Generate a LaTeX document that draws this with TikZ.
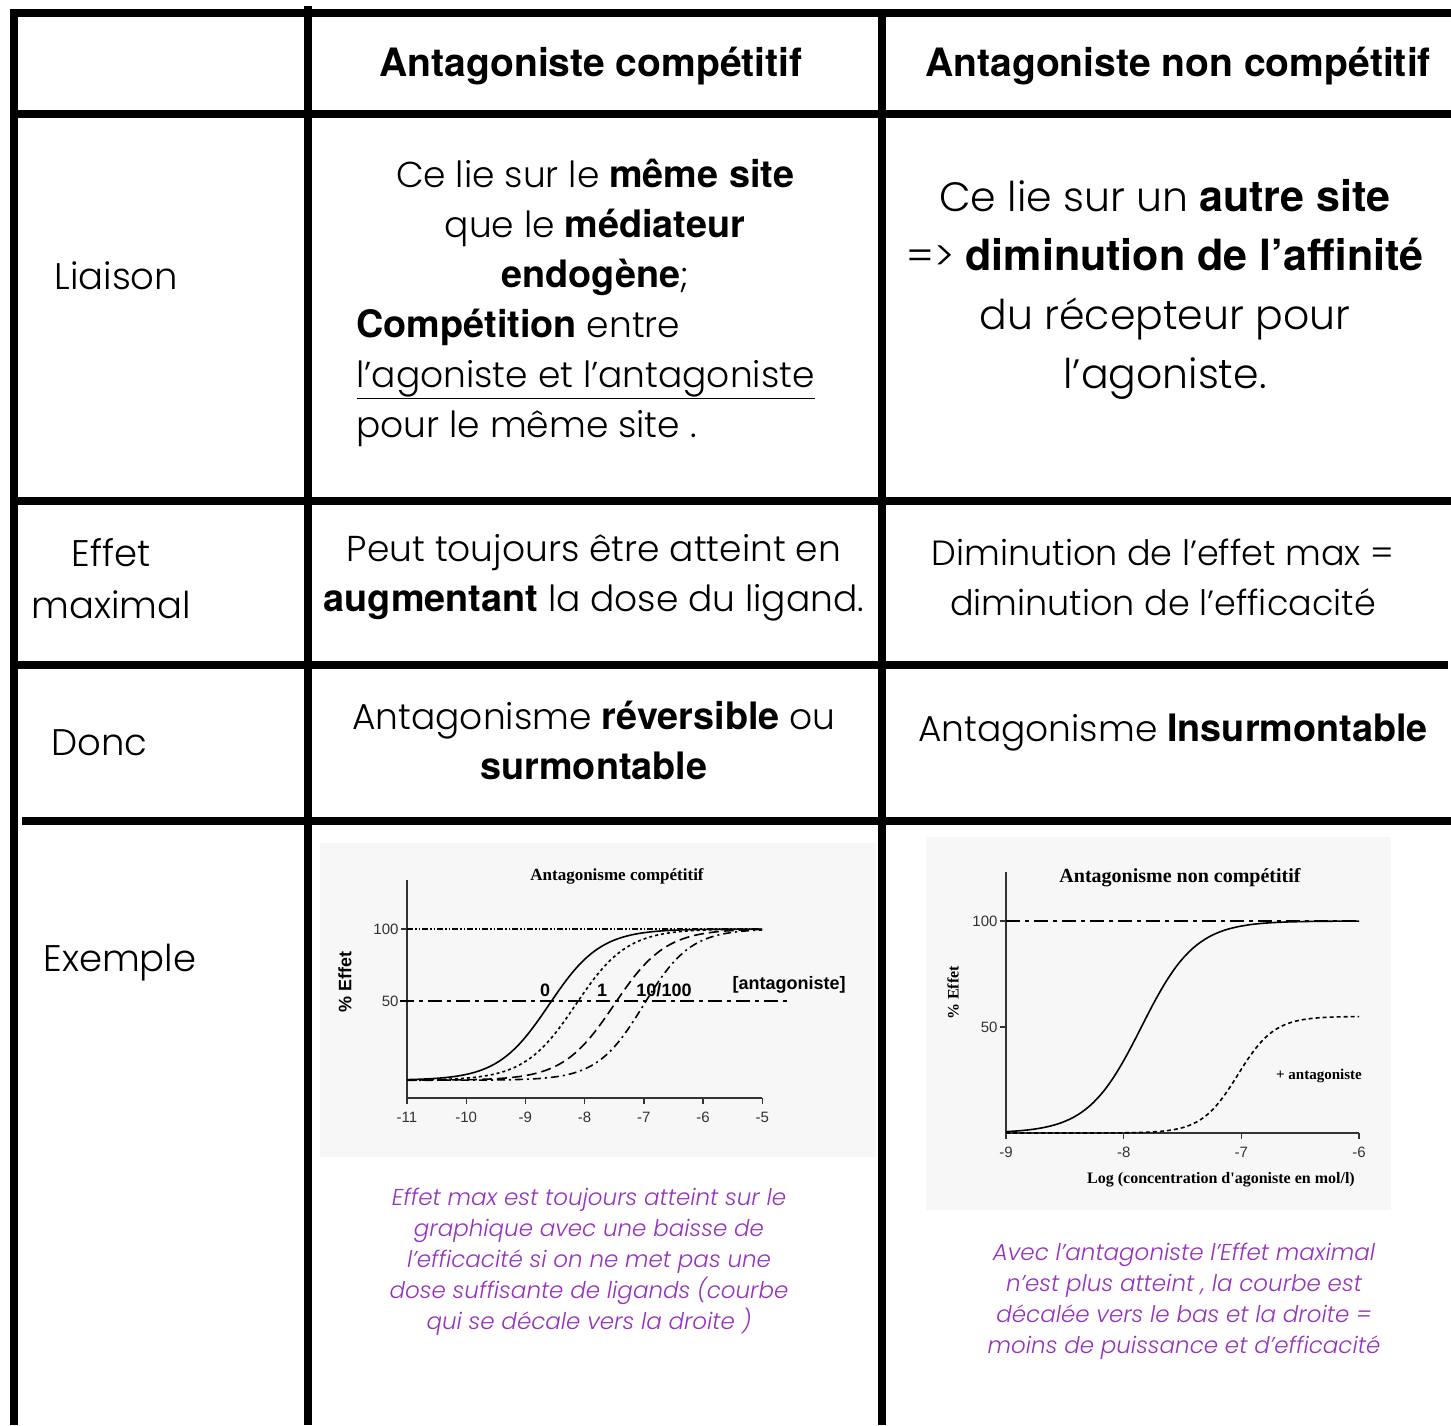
\documentclass[tikz,border=0pt]{standalone}
\usepackage{fontspec}
\setmainfont{Poppins}[UprightFont=* Light, ItalicFont=* Light Italic]
\newfontfamily\heros{TeX Gyre Heros}[Scale=1.05]
\newfontfamily\grserif{Liberation Serif}
\newfontfamily\grsans{Liberation Sans}
\newcommand{\hb}[1]{{\heros\bfseries #1}}
\definecolor{notepurple}{RGB}{150,50,190}

\begin{document}
\begin{tikzpicture}[x=1pt, y=-1pt,
  declare function={gx(\x)=407+59.2*(\x+11); gy(\v)=1073-1.44*\v;
    hx(\x)=1006+117.7*(\x+9); hy(\v)=1133-2.12*\v;
    hill(\x,\e,\n)=1/(1+10^(min((\e-\x)*\n,4)));},
  rule/.style={line width=7.5pt},
  head/.style={anchor=base, font=\heros\bfseries\fontsize{37.2}{46}\selectfont},
  rowname/.style={anchor=base west, font=\fontsize{37}{52}\selectfont},
  cell/.style={anchor=base, align=center, font=\fontsize{36}{50}\selectfont},
  note/.style={anchor=base, align=center, text=notepurple, font=\itshape\fontsize{23}{31}\selectfont},
  paper/.style={fill=black!3},
  axis/.style={line width=1.4pt, black!80},
  gtitle/.style={font=\grserif\bfseries\fontsize{17}{20}\selectfont},
  tick/.style={font=\grsans\fontsize{15}{17}\selectfont, text=black!80},
  glabel/.style={font=\grsans\bfseries\fontsize{18}{20}\selectfont},
  slabel/.style={font=\grserif\bfseries\fontsize{16}{18}\selectfont},
  curve/.style={line width=1.6pt},
  halfline/.style={line width=2.6pt, dash pattern=on 14pt off 5pt on 4pt off 5pt}]
  \useasboundingbox[fill=white] (0,0) rectangle (1451,1425);

  % grille du tableau
  \draw[rule] (10,13) -- (1451,13);
  \draw[rule] (10,114) -- (1451,114);
  \draw[rule] (10,501) -- (1451,501);
  \draw[rule] (10,665) -- (1448,665);
  \draw[rule] (22,821) -- (1451,821);
  \draw[rule] (14,9) -- (14,1425);
  \draw[rule] (308,6) -- (308,1425);
  \draw[rule] (882,9) -- (882,1425);

  % en-tetes
  \node[head] (hcomp) at (591,76) {Antagoniste compétitif};
  \node[head] (hnon) at (1178,76) {Antagoniste non compétitif};

  % premiere colonne (base = derniere ligne)
  \node[rowname] (liaison) at (51,289) {Liaison};
  \node[rowname, anchor=base, align=center] (effet) at (111,618) {Effet\\maximal};
  \node[rowname] (donc) at (48,755) {Donc};
  \node[rowname] (exemple) at (40,971) {Exemple};

  % liaison
  \node[cell] (lcomp) at (595,287)
    {Ce lie sur le \hb{même site}\\ que le \hb{médiateur}\\ \hb{endogène};};
  \node[cell, anchor=base west, align=left] (lcomp2) at (353,437)
    {\hb{Compétition} entre\\ \underline{l’agoniste et l’antagoniste}\\ pour le même site .};
  \node[cell, font=\fontsize{41}{58.7}\selectfont] (lnon) at (1165,388)
    {Ce lie sur un \hb{autre site}\\ => \hb{diminution de l’affinité}\\ du récepteur pour\\ l’agoniste.};

  % effet maximal
  \node[cell] (ecomp) at (594,611)
    {Peut toujours être atteint en\\ \hb{augmentant} la dose du ligand.};
  \node[cell, font=\fontsize{35}{50}\selectfont] (enon) at (1163,615)
    {Diminution de l’effet max =\\ diminution de l’efficacité};

  % donc
  \node[cell] (dcomp) at (594,779) {Antagonisme \hb{réversible} ou\\ \hb{surmontable}};
  \node[cell] (dnon) at (1173,741) {Antagonisme \hb{Insurmontable}};

  % graphe competitif
  \fill[paper] (320,843) rectangle (876,1157);
  \node[gtitle] (gt1) at (617,876) {Antagonisme compétitif};
  \draw[axis] (407,880) -- (407,1098) -- (762,1098);
  \foreach \v/\y in {100/929, 50/1001} {
    \draw[axis] (401,\y) -- (407,\y);
    \node[tick, anchor=east] (ya\v) at (402,\y) {\v};
  }
  \foreach \k in {-11,...,-5} {
    \draw[axis] ({gx(\k)},1098) -- ({gx(\k)},1104);
    \node[tick] (xa\k) at ({gx(\k)},1117) {\k};
  }
  \node[glabel, rotate=90] (ye1) at (345,982) {\% Effet};
  \draw[line width=1.2pt, dash pattern=on 6pt off 2pt on 1.5pt off 2pt on 1.5pt off 2pt] (407,929) -- (760,929);
  \draw[halfline] (400,1001) -- (790,1001);
  \draw[curve] plot[domain=-11:-5, samples=90] ({gx(\x)}, {gy(-5+105*hill(\x,-8.6,1))});
  \draw[curve, dash pattern=on 3pt off 3pt] plot[domain=-11:-5, samples=90] ({gx(\x)}, {gy(-5+105*hill(\x,-8.15,1))});
  \draw[curve, dash pattern=on 10pt off 5pt] plot[domain=-11:-5, samples=90] ({gx(\x)}, {gy(-5+105*hill(\x,-7.5,1))});
  \draw[curve, dash pattern=on 8pt off 4pt on 2pt off 4pt] plot[domain=-11:-5, samples=90] ({gx(\x)}, {gy(-5+105*hill(\x,-7.0,1.1))});
  \node[glabel] (c0) at (545,990) {0};
  \node[glabel] (c1) at (602,990) {1};
  \node[glabel] (c10) at (664,990) {10/100};
  \node[glabel] (conc) at (789,985) {[antagoniste]};

  % graphe non competitif
  \fill[paper] (926,837) rectangle (1391,1210);
  \node[gtitle, font=\grserif\bfseries\fontsize{20}{22}\selectfont] (gt2) at (1180,878) {Antagonisme non compétitif};
  \draw[axis] (1006,872) -- (1006,1133) -- (1359,1133);
  \foreach \v/\y in {100/921, 50/1027} {
    \draw[axis] (1000,\y) -- (1006,\y);
    \node[tick, anchor=east] (yb\v) at (1001,\y) {\v};
  }
  \foreach \k in {-9,...,-6} {
    \draw[axis] ({hx(\k)},1133) -- ({hx(\k)},1139);
    \node[tick] (xb\k) at ({hx(\k)},1152) {\k};
  }
  \node[slabel, rotate=90] (ye2) at (953,993) {\% Effet};
  \draw[halfline] (1006,921) -- (1358,921);
  \draw[curve] plot[domain=-9:-6, samples=90] ({hx(\x)}, {hy(100*hill(\x,-7.85,1.9))});
  \draw[curve, dash pattern=on 4pt off 3pt] plot[domain=-9:-6, samples=90] ({hx(\x)}, {hy(55*hill(\x,-7.03,2.8))});
  \node[slabel, font=\grserif\bfseries\fontsize{15}{17}\selectfont] (plus) at (1319,1076) {+ antagoniste};
  \node[slabel] (logc) at (1221,1180) {Log (concentration d'agoniste en mol/l)};

  % commentaires (base = derniere ligne)
  \node[note] (ncomp) at (589,1329)
    {Effet max est toujours atteint sur le\\ graphique avec une baisse de\\ l’efficacité si on ne met pas une\\ dose suffisante de ligands (courbe\\ qui se décale vers la droite )};
  \node[note] (nnon) at (1184,1353)
    {Avec l’antagoniste l’Effet maximal\\ n’est plus atteint , la courbe est\\ décalée vers le bas et la droite =\\ moins de puissance et d’efficacité};
\end{tikzpicture}
\end{document}
